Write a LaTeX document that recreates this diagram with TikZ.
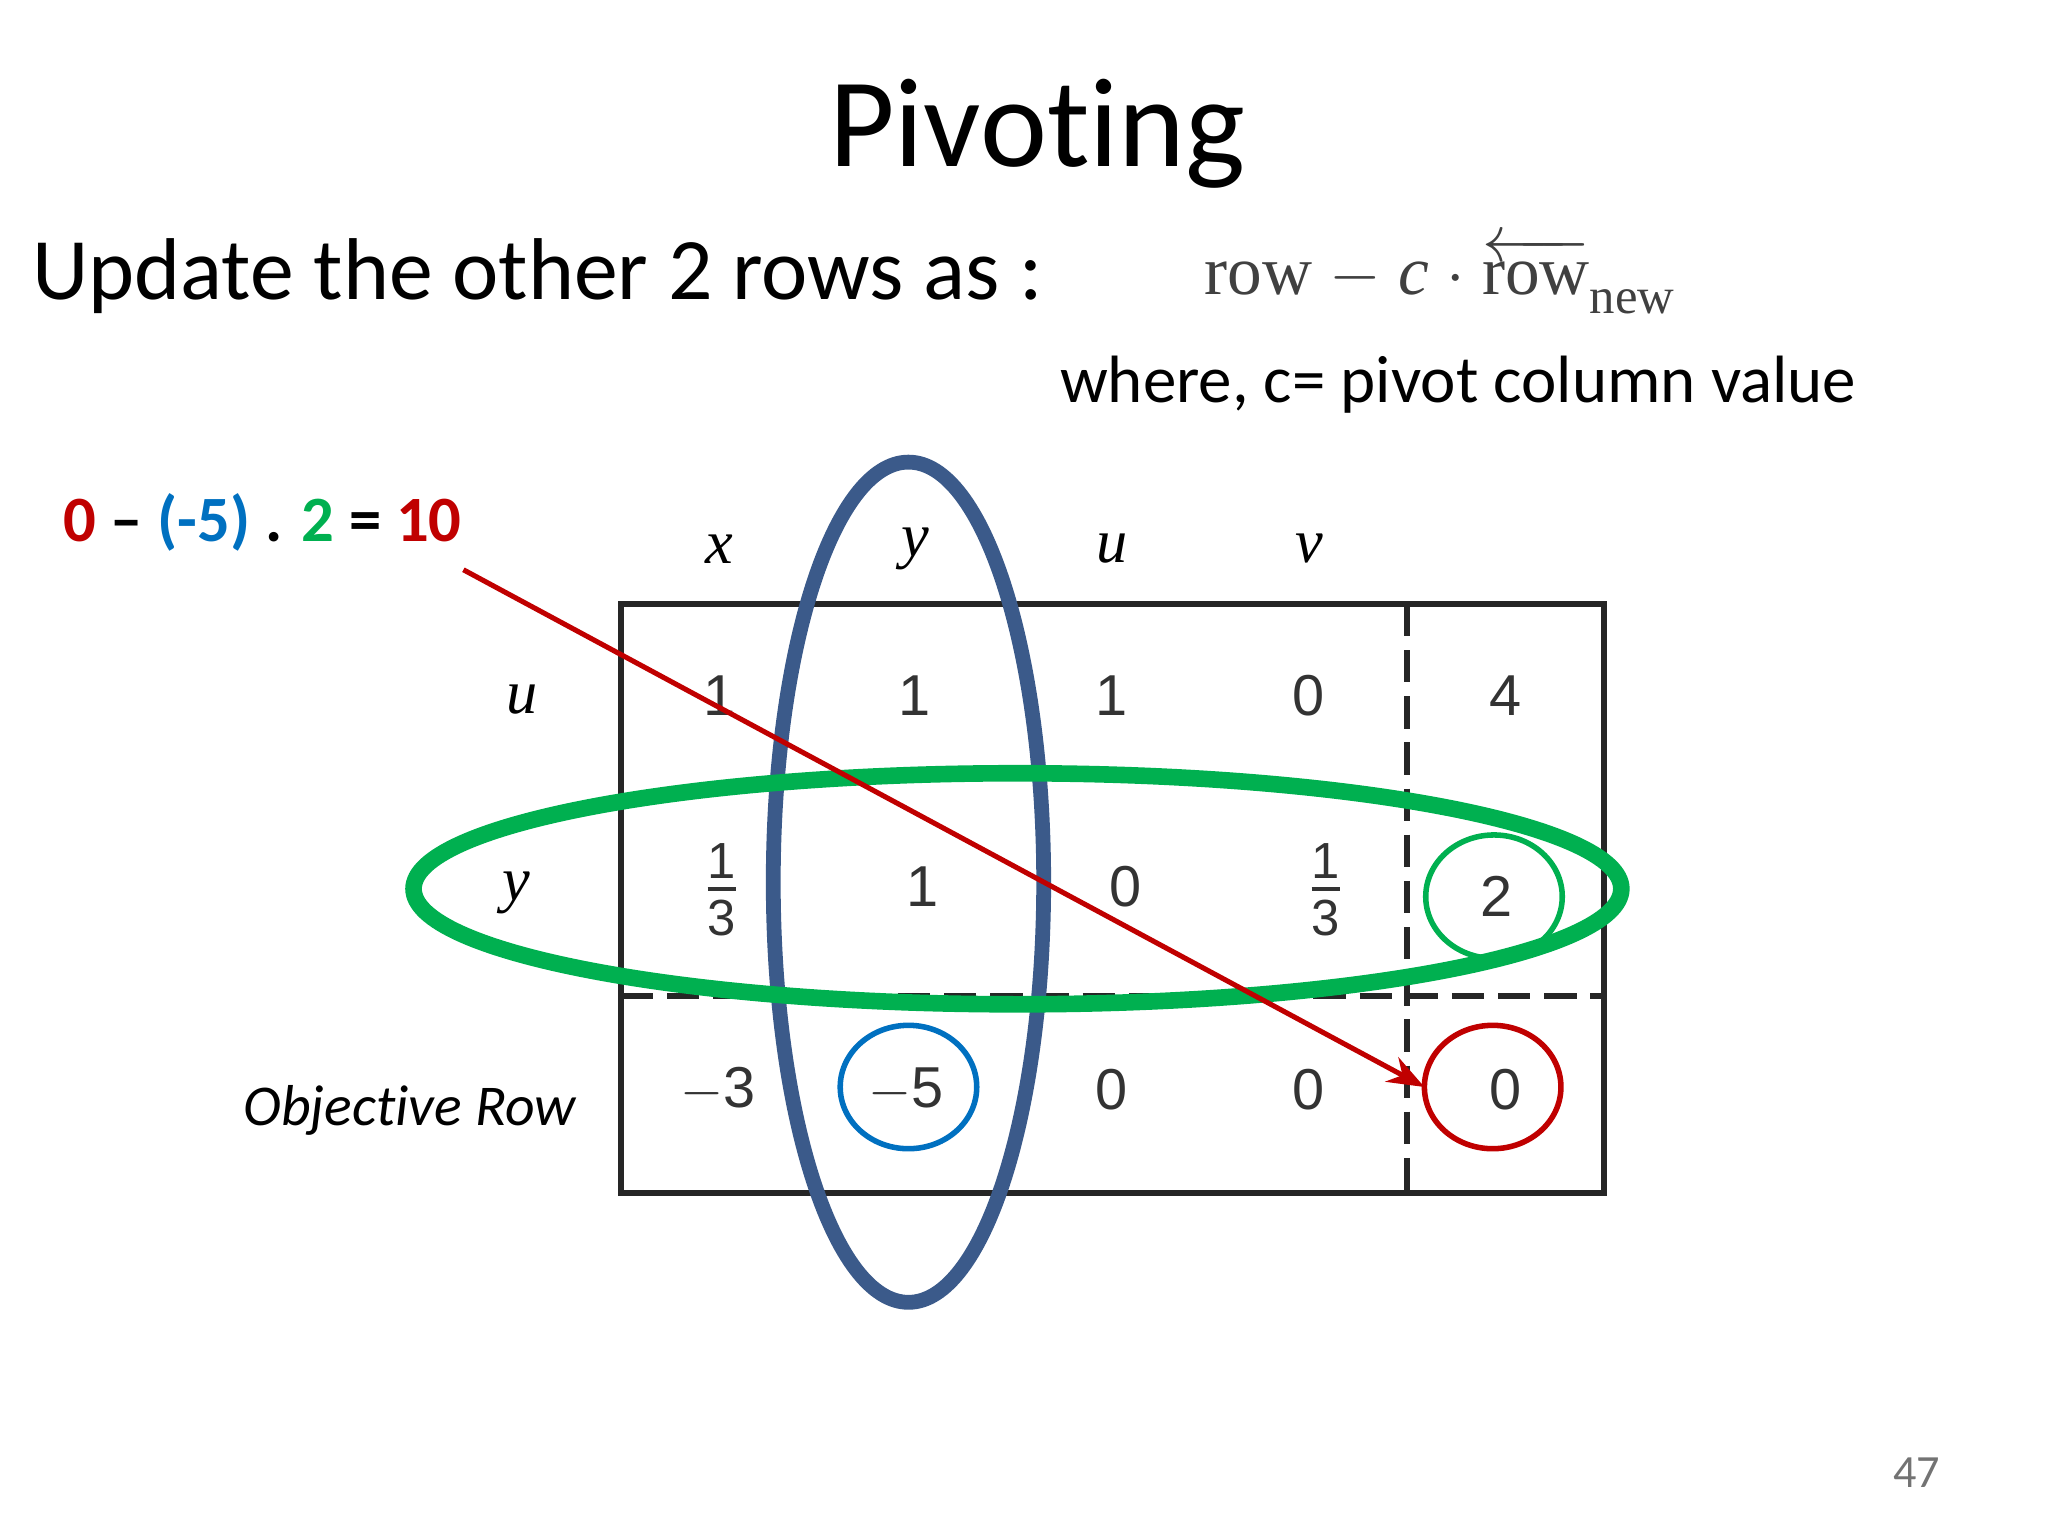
\documentclass[tikz,border=0pt]{standalone}
\usepackage{fontspec}
\setmainfont[Ligatures=NoCommon]{Carlito}
\newfontfamily\tabfont{Liberation Sans}
\newfontfamily\serf{Liberation Serif}
\usepackage{amsmath}
\usetikzlibrary{arrows.meta}
\definecolor{pblue}{HTML}{3B5A8A}
\definecolor{cblue}{HTML}{0070C0}
\definecolor{cgreen}{HTML}{00B050}
\definecolor{cred}{HTML}{C00000}
\begin{document}
\begin{tikzpicture}[x=0.01cm,y=-0.01cm,
  cell/.style={font=\tabfont\fontsize{12.5}{14}\selectfont, text=black!80},
  frac/.style={font=\tabfont\fontsize{11}{12}\selectfont, text=black!80, inner sep=1pt},
  hdr/.style={font=\serf\itshape\fontsize{13.5}{16}\selectfont},
  tdash/.style={line width=1.3pt, black!85, dash pattern=on 7pt off 3pt},
  ring/.style={line width=3.2pt}]
\useasboundingbox (0,0) rectangle (1560,1170);
\node (title) at (790,102) {\fontsize{27.5}{32}\selectfont Pivoting};
\node[anchor=west] (upd) at (12,210) {\fontsize{19}{24}\selectfont Update the other 2 rows as :};
\node[anchor=west,text=black!75] (form) at (905,210) {\serf\fontsize{15}{18}\selectfont row $-$ \textit{c} $\cdot$ $\overleftarrow{\mbox{row}}$\raisebox{-0.6ex}{\fontsize{11}{12}\selectfont new}};
\node[anchor=west] (where) at (795,293) {\fontsize{14.5}{18}\selectfont where, c= pivot column value};
\node[anchor=west] (eq) at (36,398) {\fontsize{14}{17}\selectfont\bfseries \textcolor{cred}{0} -- \textcolor{cblue}{(-5)} . \textcolor{cgreen}{2} = \textcolor{cred}{10}};
% headers
\node[hdr] (hx) at (548,418) {x};
\node[hdr] (hy) at (697,418) {y};
\node[hdr] (hu) at (847,418) {u};
\node[hdr] (hv) at (997,418) {v};
\node[hdr] (ru) at (398,533) {u};
\node[hdr] (ry) at (393,680) {y};
\node (obj) at (312,846) {\fontsize{12.5}{15}\selectfont\itshape Objective Row};
% table
\draw[line width=1.3pt, black!85] (473,460) rectangle (1222,909);
\draw[tdash] (1072,460) -- (1072,909);
\draw[tdash] (473,759) -- (1222,759);
% row 1
\node[cell] (a11) at (548,530) {1};
\node[cell] (a12) at (697,530) {1};
\node[cell] (a13) at (847,530) {1};
\node[cell] (a14) at (997,530) {0};
\node[cell] (a15) at (1147,530) {4};
% row 2
\node[frac] (a21n) at (550,656) {1};
\node[frac] (a21d) at (550,699) {3};
\draw[black!80,line width=0.8pt] (539,677) -- (561,677);
\node[cell] (a22) at (703,675) {1};
\node[cell] (a23) at (857,675) {0};
\node[frac] (a24n) at (1010,656) {1};
\node[frac] (a24d) at (1010,699) {3};
\draw[black!80,line width=0.8pt] (999,677) -- (1021,677);
\node[cell] (a25) at (1140,683) {2};
% row 3
\node[cell] (a31) at (547,830) {$-$3};
\node[cell] (a32) at (690,830) {$-$5};
\node[cell] (a33) at (847,830) {0};
\node[cell] (a34) at (997,830) {0};
\node[cell] (a35) at (1147,830) {0};
% rings
\draw[ring, pblue] (692,672) ellipse [x radius=103, y radius=320];
\draw[ring, cgreen, line width=3.6pt] (775,677) ellipse [x radius=460, y radius=88];
\draw[line width=1.2pt, cgreen] (1138,683) ellipse [x radius=52, y radius=47];
\draw[line width=1.2pt, cblue] (692,828) ellipse [x radius=52, y radius=47];
\draw[line width=1.2pt, cred] (1137,828) ellipse [x radius=52, y radius=47];
\coordinate (as) at (353,434);
\coordinate (ae) at (1085,828);
\draw[cred, line width=1.1pt, -{Stealth[length=8pt]}] (as) -- (ae);
\node[text=black!55] (pg) at (1460,1122) {\fontsize{10}{12}\selectfont 47};
\end{tikzpicture}
\end{document}
